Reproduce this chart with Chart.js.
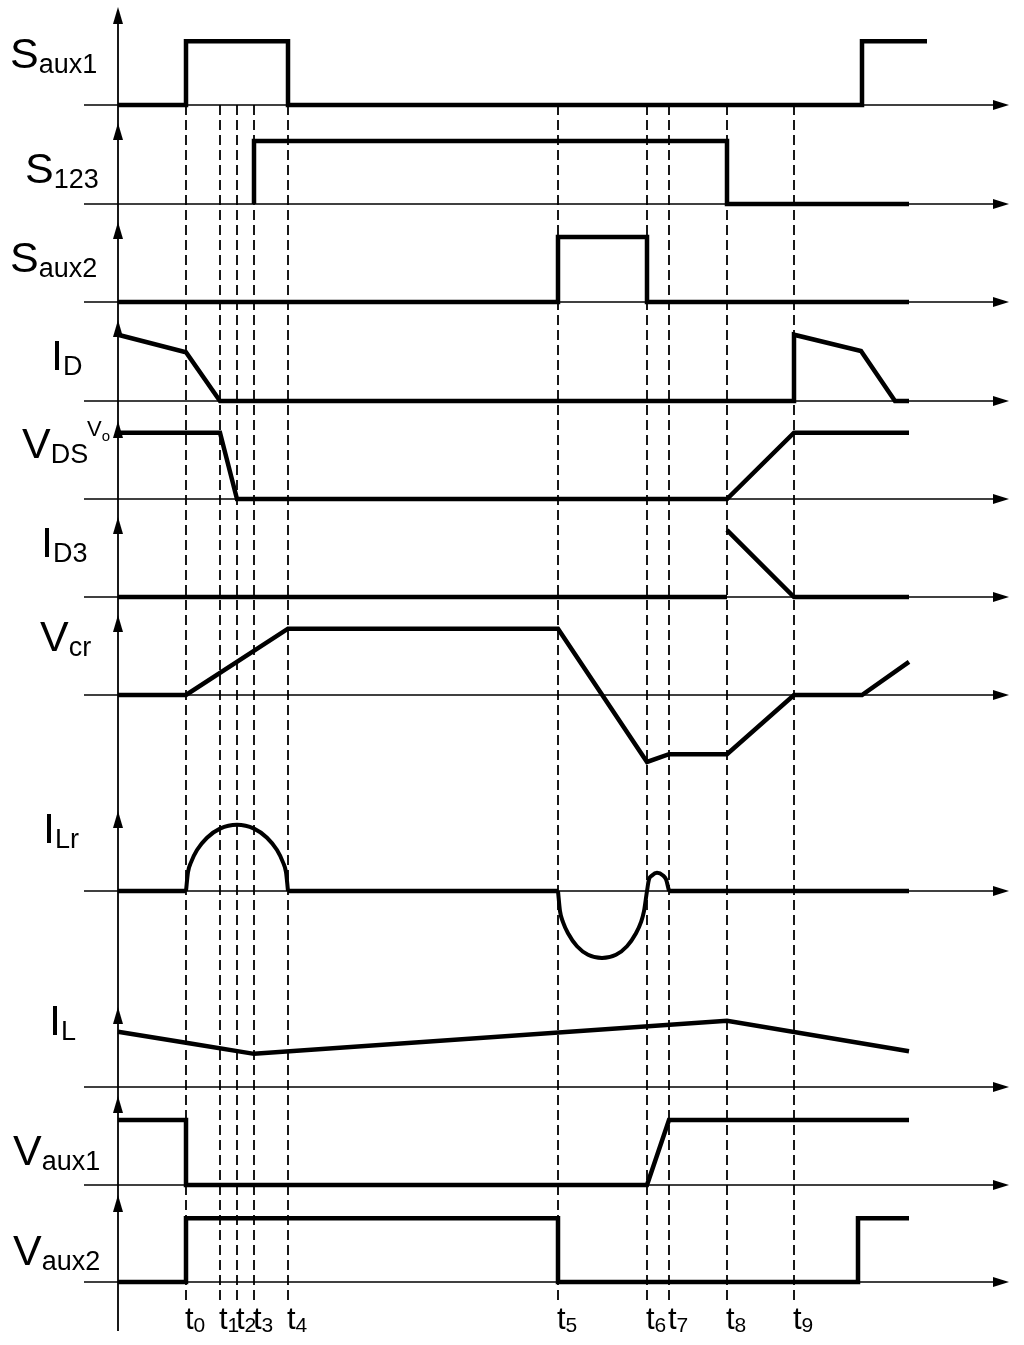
<!DOCTYPE html>
<html>
<head>
<meta charset="utf-8">
<script src="https://cdn.jsdelivr.net/npm/chart.js@4.4.1/dist/chart.umd.min.js"></script>
<style>
  html, body { margin: 0; padding: 0; background: #fff; }
  canvas { display: block; }
</style>
</head>
<body>
<canvas id="c" width="1024" height="1345"></canvas>
<script>
// ---------------- DATA ----------------
// time instants t0..t9 (time units measured from the vertical axis)
const tTimes  = [68, 102, 119, 136, 170, 440, 529, 551, 609, 676];
const tLabels = ['0', '1', '2', '3', '4', '5', '6', '7', '8', '9'];

// signal names (main letter + subscript)
const signalMain = ['S', 'S', 'S', 'I', 'V', 'I', 'V', 'I', 'I', 'V', 'V'];
const signalSub  = ['aux1', '123', 'aux2', 'D', 'DS', 'D3', 'cr', 'Lr', 'L', 'aux1', 'aux2'];

// waveforms: [time, level] with level in normalised amplitude units
const sAux1 = [[0,0],[68,0],[68,0.98],[170,0.98],[170,0],[744,0],[744,0.98],[809,0.98]];
const s123  = [[136,0],[136,0.97],[609,0.97],[609,0],[791,0]];
const sAux2 = [[0,0],[440,0],[440,1],[529,1],[529,0],[791,0]];
const iD    = [[0,1.02],[68,0.75],[102,0],[676,0],[676,1.02],[743,0.77],[777,0],[791,0]];
const vDS   = [[0,1.02],[102,1.02],[119,0],[609,0],[676,1.02],[791,1.02]];
const iD3   = [[0,0],[609,0],[609,null],[609,1.03],[676,0],[791,0]];
const vCr   = [[0,0],[68,0],[170,1.02],[440,1.02],[529,-1.03],[551,-0.91],[609,-0.91],[676,0],[744,0],[791,0.51]];
const iLrFlat = [[[0,0],[68,0]], [[170,0],[440,0]], [[551,0],[791,0]]];
const iLrArc1 = [[68,0],[70,0.29],[73,0.44],[79,0.63],[89,0.82],[102,0.96],[119,1.02],
                 [136,0.96],[149,0.82],[159,0.63],[165,0.44],[168,0.29],[170,0]];
const iLrArc2 = [[440,0],[442,-0.31],[445,-0.48],[450,-0.65],[459,-0.85],[470,-0.98],[484,-1.03],
                 [498,-0.98],[509,-0.85],[518,-0.65],[523,-0.48],[526,-0.31],[529,0],
                 [531,0.18],[534,0.24],[539,0.28],[545,0.24],[548,0.18],[551,0]];
const iL    = [[0,0.85],[68,0.68],[136,0.51],[609,1.02],[791,0.55]];
const vAux1 = [[0,1],[68,1],[68,0],[529,0],[551,1],[791,1]];
const vAux2 = [[0,0],[68,0],[68,0.98],[440,0.98],[440,0],[740,0],[740,0.98],[791,0.98]];

// ---------------- LAYOUT ----------------
const W = 1024, H = 1345;
const AXIS_PX = 118;              // pixel of time 0
const UNIT_PX = 65;               // pixels per amplitude unit
const laneBase = [105, 204, 302, 401, 499, 597, 695, 891, 1087, 1185, 1282];
const laneTip  = [7, 123, 222, 320, 421, 517, 615, 811, 1007, 1096, 1195];
const labelPos = [[10,68],[25,183],[10,272],[51,370],[22,458],[41,557],[40,651],[43,843],[49,1035],[13,1165],[13,1265]];
const FONT = '"Liberation Sans", Arial, sans-serif';

// ---------------- BUILD ----------------
const toXY = arr => arr.map(p => ({ x: p[0], y: p[1] }));
const lineDs = (arr, lane, extra) => Object.assign({
  data: toXY(arr), yAxisID: 'y' + lane,
  borderColor: '#000', borderWidth: 4.5, pointRadius: 0, fill: false, tension: 0,
  borderJoinStyle: 'miter', borderCapStyle: 'butt', spanGaps: false
}, extra || {});

const curve = { cubicInterpolationMode: 'monotone', borderJoinStyle: 'round', borderWidth: 4 };
const datasets = [
  lineDs(sAux1, 0), lineDs(s123, 1), lineDs(sAux2, 2), lineDs(iD, 3), lineDs(vDS, 4),
  lineDs(iD3, 5), lineDs(vCr, 6),
  lineDs(iLrFlat[0], 7), lineDs(iLrFlat[1], 7), lineDs(iLrFlat[2], 7),
  lineDs(iLrArc1, 7, curve), lineDs(iLrArc2, 7, curve),
  lineDs(iL, 8), lineDs(vAux1, 9), lineDs(vAux2, 10)
];

const scales = {
  x: { type: 'linear', display: false, min: -AXIS_PX, max: W - AXIS_PX }
};
laneBase.forEach((b, i) => {
  scales['y' + i] = { type: 'linear', display: false, min: (b - H) / UNIT_PX, max: b / UNIT_PX };
});

function drawSubText(ctx, main, sub, x, y, mainSize, subSize, dy) {
  ctx.font = mainSize + 'px ' + FONT;
  ctx.fillText(main, x, y);
  const w = ctx.measureText(main).width;
  ctx.font = subSize + 'px ' + FONT;
  ctx.fillText(sub, x + w, y + dy);
}

const timingPlugin = {
  id: 'timing',
  beforeDatasetsDraw(chart) {
    const ctx = chart.ctx, xs = chart.scales.x;
    const x0 = xs.getPixelForValue(0);
    const xEnd = xs.getPixelForValue(891);
    ctx.save();
    ctx.fillStyle = '#000';
    ctx.strokeStyle = '#000';
    // vertical axis
    ctx.lineWidth = 1.8;
    ctx.beginPath(); ctx.moveTo(x0, laneTip[0] + 4); ctx.lineTo(x0, 1331); ctx.stroke();
    laneBase.forEach((b, i) => {
      const ys = chart.scales['y' + i];
      const yb = ys.getPixelForValue(0);
      // baseline
      ctx.lineWidth = 1.5;
      ctx.beginPath(); ctx.moveTo(84, yb); ctx.lineTo(xEnd - 10, yb); ctx.stroke();
      // horizontal arrow head
      ctx.beginPath(); ctx.moveTo(xEnd, yb); ctx.lineTo(xEnd - 16, yb - 5); ctx.lineTo(xEnd - 16, yb + 5); ctx.closePath(); ctx.fill();
      // vertical arrow head
      const yt = laneTip[i];
      ctx.beginPath(); ctx.moveTo(x0, yt); ctx.lineTo(x0 - 5, yt + 17); ctx.lineTo(x0 + 5, yt + 17); ctx.closePath(); ctx.fill();
    });
    // dashed guides
    const yTop = chart.scales.y0.getPixelForValue(0);
    ctx.lineWidth = 1.8;
    ctx.setLineDash([10, 5]);
    tTimes.forEach(t => {
      const px = Math.round(xs.getPixelForValue(t));
      ctx.beginPath(); ctx.moveTo(px, yTop); ctx.lineTo(px, 1303); ctx.stroke();
    });
    ctx.setLineDash([]);
    ctx.restore();
  },
  afterDatasetsDraw(chart) {
    const ctx = chart.ctx, xs = chart.scales.x;
    ctx.save();
    ctx.fillStyle = '#000';
    ctx.textBaseline = 'alphabetic';
    ctx.textAlign = 'left';
    signalMain.forEach((m, i) => {
      drawSubText(ctx, m, signalSub[i], labelPos[i][0], labelPos[i][1], 43, 27, 5);
    });
    // Vo marker
    drawSubText(ctx, 'V', 'o', 87, 436, 22, 15, 5);
    // time labels
    tTimes.forEach((t, i) => {
      const px = xs.getPixelForValue(t);
      drawSubText(ctx, 't', tLabels[i], px - 1, 1329, 31, 21, 3);
    });
    ctx.restore();
  }
};

new Chart(document.getElementById('c'), {
  type: 'line',
  data: { datasets },
  options: {
    responsive: false,
    animation: false,
    events: [],
    layout: { padding: 0 },
    plugins: { legend: { display: false }, tooltip: { enabled: false }, title: { display: false } },
    scales
  },
  plugins: [timingPlugin]
});
</script>
</body>
</html>
